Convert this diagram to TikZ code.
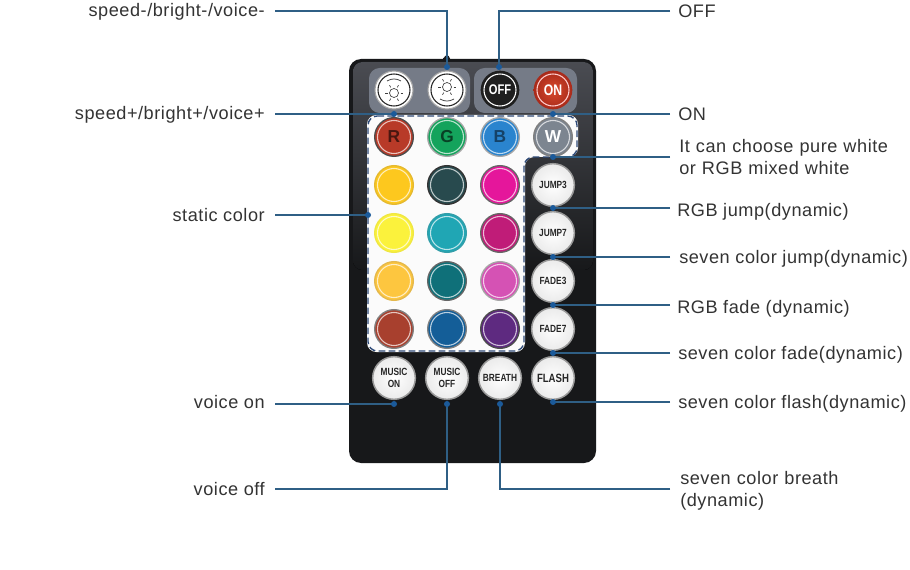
\documentclass[tikz,border=0pt]{standalone}
\usepackage{fontspec}
\setmainfont[LetterSpace=3]{Liberation Sans}
\newfontfamily\btnfont[FakeStretch=0.8]{Liberation Sans}
\setsansfont{Liberation Sans}
\usetikzlibrary{calc}
\definecolor{leader}{HTML}{2F5F85}
\definecolor{dotblue}{HTML}{1B5A9A}
\definecolor{bodyblk}{HTML}{17181A}
\definecolor{bodytop}{HTML}{4A4C52}
\definecolor{panelgray}{HTML}{757B87}
\definecolor{dashcol}{HTML}{2E4A78}
\definecolor{oninner}{HTML}{D8492C}
\definecolor{onouter}{HTML}{A82A1A}
\tikzset{
  x=0.75pt,y=-0.75pt,
  leaderline/.style={draw=leader,line width=1.1pt},
  lbl/.style={font=\fontsize{13.6}{16.5}\selectfont,text=black!80,inner sep=0pt},
  lbll/.style={lbl,anchor=west,align=left},
  lblr/.style={lbl,anchor=east},
  whitebtn/.style={circle,minimum size=32pt,inner sep=0pt,inner color=white,outer color=black!8,draw=black!40,line width=1.1pt,
     font=\btnfont\bfseries\fontsize{7.8}{8.6}\selectfont,align=center,text=black!85},
  pt/.style={circle,fill=dotblue,inner sep=0pt,minimum size=4.5pt},
}
\begin{document}
\begin{tikzpicture}
\useasboundingbox (0,0) rectangle (910,570);
\fill[white] (0,0) rectangle (910,570);
% body
\fill[bodyblk] (443,60) -- (443,58) to[out=-90,in=180] (447,55) to[out=0,in=-90] (451,60) -- cycle;
\fill[bodyblk,rounded corners=9pt] (349,59) rectangle (596,463);
\fill[top color=bodytop,bottom color=bodyblk,rounded corners=7pt] (353,62) rectangle (593,270);
% top panels
\fill[panelgray,rounded corners=8pt] (369,68) rectangle (470,113);
\fill[panelgray,rounded corners=8pt] (474,68) rectangle (577,113);
% white panel
\fill[white!97!gray,rounded corners=7pt] (367,115) -- (578,115) -- (578,157) -- (525,157) -- (525,352) -- (367,352) -- cycle;
\draw[dashcol,line width=1pt,dash pattern=on 5pt off 2.5pt,rounded corners=7pt] (368,116) -- (577,116) -- (577,157) -- (524,157) -- (524,351) -- (368,351) -- cycle;
% top row
\node[circle,minimum size=28.5pt,inner sep=0pt,fill=white,draw=black!35,line width=.8pt] (bdn) at (394,90) {};
\node[circle,minimum size=28.5pt,inner sep=0pt,fill=white,draw=black!35,line width=.8pt] (bup) at (447,90) {};
\draw[black!85,line width=.8pt] (bdn) circle (16);
\draw[black!85,line width=.8pt] (bup) circle (16);
\coordinate (sd) at (394,93);
\coordinate (su) at (447,87);
\foreach \c in {sd,su}{
  \draw[black!75,line width=.5pt] (\c) circle (4.5);
  \foreach \a in {0,60,...,300}{\draw[black!75,line width=.5pt] ($(\c)+(\a:6.5)$) -- ($(\c)+(\a:9)$);}
}
\draw[black!70,line width=.6pt] (387,81) to[bend left=30] (401,81);
\draw[black!70,line width=.6pt] (454,99) to[bend left=30] (440,99);
\node[circle,minimum size=29pt,inner sep=0pt,fill=black!88] (off) at (500,90) {};
\draw[white,line width=.8pt] (off) circle (16);
\node[font=\btnfont\bfseries\fontsize{10.5}{10}\selectfont,text=white] at (off) {OFF};
\node[circle,minimum size=29pt,inner sep=0pt,inner color=oninner,outer color=onouter] (on) at (553,90) {};
\draw[white!80!red,line width=.8pt] (on) circle (16);
\node[font=\btnfont\bfseries\fontsize{11.5}{11}\selectfont,text=white] at (on) {ON};
% color buttons
\newcommand{\cbtn}[5]{% name, x, y, fill, ring
  \node[circle,minimum size=29pt,inner sep=0pt,fill=#4,draw=#5,line width=1pt] (#1) at (#2,#3) {};
  \draw[white!70!#4,line width=.8pt] (#1) circle (16.5);
}
\definecolor{cR}{HTML}{B83A28}\definecolor{cG}{HTML}{14A35C}\definecolor{cB}{HTML}{2A84CE}\definecolor{cW}{HTML}{7C8590}
\definecolor{cYa}{HTML}{FDC81E}\definecolor{cDk}{HTML}{284A4E}\definecolor{cMg}{HTML}{E5169B}
\definecolor{cYb}{HTML}{FBF23C}\definecolor{cCy}{HTML}{20A6B4}\definecolor{cMb}{HTML}{C01C78}
\definecolor{cOr}{HTML}{FDC63F}\definecolor{cTe}{HTML}{0F7079}\definecolor{cPk}{HTML}{D552B4}
\definecolor{cBr}{HTML}{A8402E}\definecolor{cNv}{HTML}{145E98}\definecolor{cPu}{HTML}{5E2A80}
\cbtn{r}{394}{137}{cR}{black!70}
\cbtn{g}{447}{137}{cG}{black!35}
\cbtn{b}{500}{137}{cB}{black!35}
\cbtn{w}{553}{137}{cW}{black!50}
\node[font=\sffamily\bfseries\fontsize{13}{13}\selectfont,text=black!60!cR] at (r) {R};
\node[font=\sffamily\bfseries\fontsize{13}{13}\selectfont,text=black!60!cG] at (g) {G};
\node[font=\sffamily\bfseries\fontsize{13}{13}\selectfont,text=black!50!cB] at (b) {B};
\node[font=\sffamily\bfseries\fontsize{13}{13}\selectfont,text=white] at (w) {W};
\cbtn{c1}{394}{185}{cYa}{cYa!80!gray}
\cbtn{c2}{447}{185}{cDk}{black!80}
\cbtn{c3}{500}{185}{cMg}{black!60}
\cbtn{c4}{394}{233}{cYb}{cYb!90!gray}
\cbtn{c5}{447}{233}{cCy}{cCy!80!gray}
\cbtn{c6}{500}{233}{cMb}{black!60}
\cbtn{c7}{394}{281}{cOr}{cOr!80!gray}
\cbtn{c8}{447}{281}{cTe}{black!60}
\cbtn{c9}{500}{281}{cPk}{black!35}
\cbtn{c10}{394}{329}{cBr}{black!50}
\cbtn{c11}{447}{329}{cNv}{black!50}
\cbtn{c12}{500}{329}{cPu}{black!70}
% white buttons
\node[whitebtn] (j3) at (553,185) {JUMP3};
\node[whitebtn] (j7) at (553,233) {JUMP7};
\node[whitebtn] (f3) at (553,281) {FADE3};
\node[whitebtn] (f7) at (553,329) {FADE7};
\node[whitebtn] (mon) at (394,378) {MUSIC\\ON};
\node[whitebtn] (mof) at (447,378) {MUSIC\\OFF};
\node[whitebtn] (bre) at (500,378) {BREATH};
\node[whitebtn,font=\btnfont\bfseries\fontsize{9}{9}\selectfont] (fla) at (553,378) {FLASH};
% labels
\node[lblr] (tsm) at (265,12) {speed-/bright-/voice-};
\node[lblr] (tsp) at (265,115) {speed+/bright+/voice+};
\node[lblr] (tst) at (265,215) {static color};
\node[lblr] (tvn) at (265,402) {voice on};
\node[lblr] (tvf) at (265,489) {voice off};
\node[lbll] (toff) at (678,11) {OFF};
\node[lbll] (ton) at (678,114) {ON};
\node[lbll,text width=190pt] (twh) at (679,157) {It can choose pure white\\or RGB mixed white};
\node[lbll] (tj3) at (677,212) {RGB jump(dynamic)};
\node[lbll] (tj7) at (679,259) {seven color jump(dynamic)};
\node[lbll] (tf3) at (677,309) {RGB fade (dynamic)};
\node[lbll] (tf7) at (678,355) {seven color fade(dynamic)};
\node[lbll] (tfl) at (678,404) {seven color flash(dynamic)};
\node[lbll,text width=170pt] (tbr) at (680,491) {seven color breath\\(dynamic)};
% anchors of connectors
\coordinate (psm) at (447,67);
\coordinate (ps) at (394,114);
\coordinate (pst) at (368,215);
\coordinate (pvn) at (394,404);
\coordinate (pvf) at (447,404);
\coordinate (poff) at (499,67);
\coordinate (pon) at (553,114);
\coordinate (pwh) at (553,157);
\coordinate (pj3) at (553,208);
\coordinate (pj7) at (553,257);
\coordinate (pf3) at (553,305);
\coordinate (pf7) at (553,353);
\coordinate (pfl) at (553,402);
\coordinate (pbr) at (500,404);
\coordinate (lsm) at (275,11);\coordinate (ls) at (275,114);\coordinate (lst) at (275,215);
\coordinate (lvn) at (275,404);\coordinate (lvf) at (275,489);
\coordinate (loff) at (670,11);\coordinate (lon) at (670,114);\coordinate (lwh) at (670,157);
\coordinate (lj3) at (670,208);\coordinate (lj7) at (670,257);\coordinate (lf3) at (670,305);
\coordinate (lf7) at (670,353);\coordinate (lfl) at (670,402);\coordinate (lbr) at (670,489);
% connectors
\draw[leaderline] (lsm) -| (psm);
\draw[leaderline] (ls) -- (ps);
\draw[leaderline] (lst) -- (pst);
\draw[leaderline] (lvn) -- (pvn);
\draw[leaderline] (lvf) -| (pvf);
\draw[leaderline] (loff) -| (poff);
\draw[leaderline] (lon) -- (pon);
\draw[leaderline] (lwh) -- (pwh);
\draw[leaderline] (lj3) -- (pj3);
\draw[leaderline] (lj7) -- (pj7);
\draw[leaderline] (lf3) -- (pf3);
\draw[leaderline] (lf7) -- (pf7);
\draw[leaderline] (lfl) -- (pfl);
\draw[leaderline] (lbr) -| (pbr);
\foreach \p in {psm,ps,pst,pvn,pvf,poff,pon,pwh,pj3,pj7,pf3,pf7,pfl,pbr}{\node[pt] at (\p) {};}
\end{tikzpicture}
\end{document}
